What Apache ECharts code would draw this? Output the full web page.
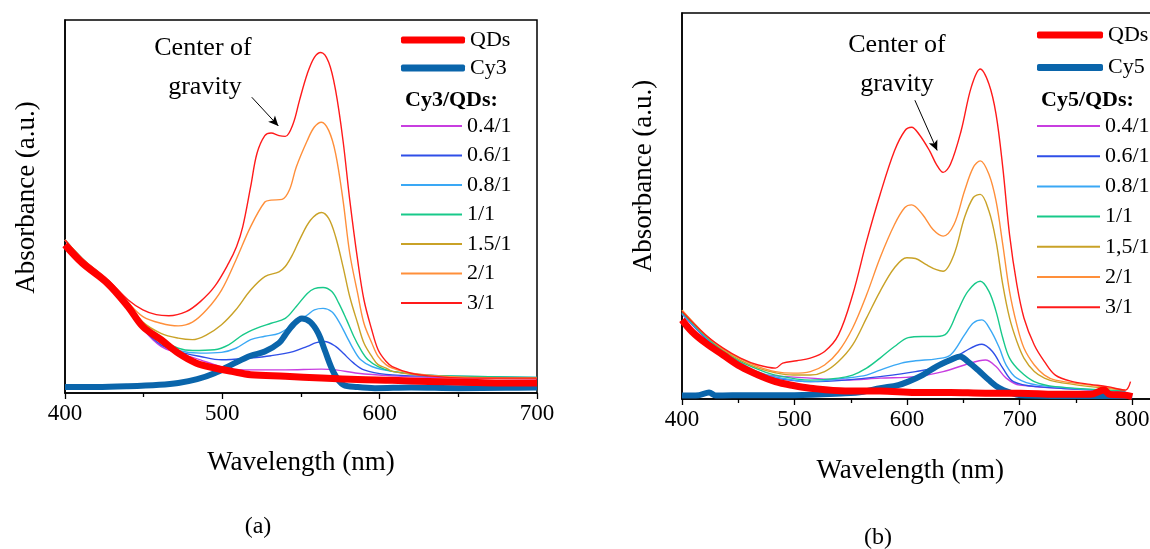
<!DOCTYPE html>
<html>
<head>
<meta charset="utf-8">
<script src="https://cdn.jsdelivr.net/npm/echarts/dist/echarts.min.js"></script>
<style>
html,body{margin:0;padding:0;background:#ffffff;}
#c{width:1150px;height:549px;}
</style>
</head>
<body>
<div id="c"></div>
<script>
// ---------------- DATA (wavelength nm, absorbance in relative units 0..1 of frame) ----------------
const labelsA = ['0.4/1', '0.6/1', '0.8/1', '1/1', '1.5/1', '2/1', '3/1'];
const labelsB = ['0.4/1', '0.6/1', '0.8/1', '1/1', '1,5/1', '2/1', '3/1'];
const dyeA = 'Cy3';
const dyeB = 'Cy5';
const headerA = 'Cy3/QDs:';
const headerB = 'Cy5/QDs:';
const xRangeA = [400, 700];
const xRangeB = [400, 850];

// Panel (a)
const qdsA = [[400,0.397],[411,0.348],[427,0.294],[440,0.232],[449.5,0.178],[461,0.143],[472,0.107],[483.6,0.08],[495,0.067],[506,0.058],[518,0.049],[540,0.045],[563,0.04],[586,0.036],[608,0.034],[631,0.031],[654,0.029],[677,0.027],[700,0.027]];
const cy3A = [[400,0.016],[420,0.016],[440,0.018],[460,0.022],[472,0.027],[484,0.037],[495,0.053],[506,0.076],[518,0.10],[527,0.111],[536,0.134],[540,0.156],[545,0.183],[550.6,0.20],[556,0.19],[561,0.16],[565,0.116],[571,0.053],[577,0.022],[586,0.016],[597,0.013],[620,0.015],[650,0.013],[680,0.014],[700,0.015]];
const a04 = [[400,0.41],[411,0.358],[427,0.3],[440,0.234],[449.5,0.172],[461,0.125],[472,0.107],[486,0.089],[495,0.076],[506,0.064],[518,0.062],[540,0.062],[563,0.064],[572,0.062],[586,0.053],[608,0.046],[631,0.042],[700,0.038]];
const a06 = [[400,0.41],[411,0.358],[427,0.3],[440,0.235],[449.5,0.174],[461,0.129],[472,0.111],[486,0.098],[499.5,0.089],[518,0.094],[531,0.10],[545,0.111],[554,0.125],[559.7,0.135],[565,0.138],[572,0.125],[576.7,0.107],[583.5,0.08],[590,0.062],[604,0.05],[631,0.045],[700,0.04]];
const a08 = [[400,0.41],[411,0.36],[427,0.3],[440,0.236],[449.5,0.176],[461,0.134],[472,0.114],[486,0.107],[499.5,0.109],[508.6,0.12],[518,0.143],[527,0.152],[536,0.16],[545,0.183],[554,0.209],[558.5,0.223],[564,0.227],[569.6,0.218],[574,0.192],[579,0.152],[583.5,0.116],[588,0.089],[595,0.071],[608,0.058],[631,0.048],[700,0.042]];
const a10 = [[400,0.41],[411,0.36],[427,0.301],[440,0.238],[449.5,0.18],[461,0.143],[472,0.12],[481,0.114],[495,0.116],[504,0.129],[513,0.156],[522,0.174],[531,0.187],[540,0.20],[547,0.232],[554,0.267],[558.5,0.28],[564,0.283],[569.6,0.272],[574,0.241],[579,0.196],[583.5,0.152],[588,0.116],[592.6,0.089],[599,0.071],[608,0.058],[631,0.048],[700,0.042]];
const a15 = [[400,0.41],[411,0.36],[427,0.302],[440,0.24],[449.5,0.19],[461,0.16],[472,0.147],[481,0.143],[490,0.156],[499.5,0.183],[508.6,0.223],[518,0.276],[527,0.312],[536,0.325],[540,0.339],[545,0.374],[549,0.41],[556,0.463],[563,0.484],[567.6,0.468],[572,0.419],[576.7,0.339],[581,0.258],[586,0.187],[590,0.134],[595,0.098],[599,0.076],[604,0.067],[608,0.058],[631,0.046],[700,0.04]];
const a20 = [[400,0.41],[411,0.36],[427,0.303],[440,0.243],[449.5,0.205],[461,0.187],[472,0.18],[481,0.19],[490,0.223],[499.5,0.276],[508.6,0.356],[518,0.446],[527,0.512],[531,0.517],[538,0.519],[542.6,0.544],[547,0.606],[554,0.677],[558.5,0.713],[563,0.726],[567.6,0.704],[572,0.642],[576.7,0.517],[581,0.374],[586,0.267],[590,0.187],[595,0.134],[599,0.098],[604,0.076],[608,0.067],[620,0.053],[654,0.042],[700,0.04]];
const a30 = [[400,0.41],[411,0.36],[427,0.305],[440,0.25],[449.5,0.223],[458,0.21],[466,0.207],[477,0.218],[486,0.245],[495,0.285],[504,0.348],[509,0.392],[513,0.446],[518,0.553],[522,0.642],[527,0.69],[531,0.697],[536,0.69],[540,0.688],[545,0.722],[549,0.784],[554,0.856],[558.5,0.90],[562.6,0.913],[567.6,0.887],[572,0.811],[576.7,0.677],[581,0.517],[586,0.356],[590,0.25],[595,0.169],[599,0.116],[604,0.085],[608,0.071],[620,0.053],[631,0.046],[654,0.04],[700,0.04]];

// Panel (b)
const qdsB = [[400,0.205],[408.7,0.175],[421,0.145],[436.6,0.114],[452,0.084],[467.7,0.062],[483,0.045],[498.8,0.035],[514,0.028],[545,0.021],[576,0.021],[607.5,0.017],[638.5,0.017],[669.6,0.015],[700.7,0.015],[731.7,0.012],[762.8,0.012],[775,0.023],[780,0.012],[793.8,0.010],[800,0.006]];
const cy5B = [[400,0.009],[415,0.01],[424,0.017],[430,0.009],[460,0.01],[500,0.01],[545,0.015],[561,0.019],[576,0.028],[592,0.036],[601,0.045],[613.7,0.062],[626,0.084],[638.5,0.101],[647,0.11],[654,0.097],[663,0.075],[672.7,0.049],[682,0.028],[691,0.017],[700.7,0.01],[750,0.008],[800,0.008]];
const b04 = [[400,0.22],[421,0.157],[436.6,0.118],[452,0.088],[467.7,0.066],[483,0.06],[514,0.054],[545,0.049],[576,0.054],[607.5,0.058],[632,0.071],[651,0.088],[669.6,0.101],[679,0.084],[688,0.054],[700,0.036],[793.8,0.02]];
const b06 = [[400,0.222],[421,0.158],[436.6,0.12],[452,0.09],[467.7,0.068],[483,0.054],[514,0.045],[545,0.049],[576,0.058],[607.5,0.071],[632,0.088],[651,0.123],[666.5,0.142],[675.8,0.123],[685,0.08],[694.5,0.045],[716,0.032],[793.8,0.02]];
const b08 = [[400,0.222],[421,0.16],[436.6,0.123],[452,0.094],[467.7,0.07],[483,0.057],[514,0.045],[545,0.054],[564,0.062],[576,0.075],[595,0.093],[607.5,0.099],[626,0.104],[638.5,0.114],[651,0.166],[658.8,0.197],[666.5,0.205],[674,0.179],[682,0.132],[688,0.088],[697.5,0.054],[716,0.036],[793.8,0.02]];
const b10 = [[400,0.225],[421,0.162],[436.6,0.125],[452,0.097],[467.7,0.077],[483,0.062],[514,0.049],[539,0.054],[551.6,0.062],[564,0.08],[576,0.106],[588.8,0.136],[601,0.159],[613.7,0.162],[626,0.162],[635.4,0.171],[644.8,0.227],[654,0.279],[665,0.305],[672.7,0.279],[679,0.227],[685,0.158],[691,0.106],[700.7,0.071],[713,0.045],[731.7,0.032],[793.8,0.021]];
const b15 = [[400,0.23],[421,0.165],[436.6,0.128],[452,0.1],[467.7,0.08],[483,0.068],[498.8,0.062],[514,0.062],[526.7,0.071],[539,0.097],[551.6,0.14],[564,0.21],[576,0.279],[588.8,0.34],[599.7,0.366],[607.5,0.364],[617,0.348],[626,0.335],[632,0.331],[641.6,0.374],[651,0.47],[658.8,0.522],[665,0.53],[672.7,0.487],[679,0.409],[685,0.296],[691,0.21],[697.5,0.149],[703.8,0.106],[713,0.071],[722,0.054],[731.7,0.045],[762.8,0.032],[793.8,0.023]];
const b20 = [[400,0.23],[421,0.166],[436.6,0.13],[452,0.104],[467.7,0.084],[483,0.071],[498.8,0.067],[514,0.071],[526.7,0.088],[539,0.123],[551.6,0.184],[564,0.27],[576,0.366],[588.8,0.452],[598,0.496],[604,0.503],[613.7,0.478],[623,0.439],[632,0.422],[641.6,0.452],[651,0.539],[658.8,0.60],[665,0.617],[672.7,0.582],[679,0.513],[685,0.40],[691,0.279],[697.5,0.192],[703.8,0.132],[713,0.088],[722,0.062],[731.7,0.049],[762.8,0.036],[793.8,0.023]];
const b30 = [[400,0.227],[421,0.166],[436.6,0.132],[452,0.106],[467.7,0.088],[483,0.08],[489.5,0.093],[502,0.099],[514,0.106],[526.7,0.123],[539,0.166],[551.6,0.27],[564,0.409],[576,0.53],[588.8,0.643],[598,0.695],[604,0.704],[610.6,0.686],[620,0.643],[626,0.608],[632,0.587],[638.5,0.608],[648,0.695],[657,0.808],[665,0.855],[672.7,0.816],[679,0.738],[685,0.60],[691,0.426],[697.5,0.296],[703.8,0.21],[713,0.14],[722,0.097],[731.7,0.062],[747,0.045],[762.8,0.038],[778,0.032],[793.8,0.023],[798.5,0.045]];

// annotation arrows (data coordinates: tail -> head)
const arrowA = [[518.7, 0.793], [535.6, 0.716]];
const arrowB = [[606.9, 0.774], [626.7, 0.644]];

// ---------------- STYLE ----------------
const FONT = '"Liberation Serif", "DejaVu Serif", serif';
const ratioColors = ['#c83ee0', '#2f4fe8', '#3aa8f5', '#18c98a', '#c9a227', '#ff8f3a', '#ff1a1a'];
const qdsColor = '#ff0000';
const dyeColor = '#0a65ab';

const chart = echarts.init(document.getElementById('c'), null, {renderer: 'canvas'});

function xAxisCfg(gi, range, gap, padRight) {
  return {
    type: 'value', gridIndex: gi, min: range[0], max: range[1], interval: 100,
    name: 'Wavelength (nm)', nameLocation: 'middle', nameGap: gap,
    nameTextStyle: {fontFamily: FONT, fontSize: 27, color: '#000', padding: [0, padRight, 0, 0]},
    axisLine: {show: true, lineStyle: {color: '#000', width: 1.5}},
    axisTick: {show: true, inside: false, length: 6, lineStyle: {color: '#000', width: 1.3}},
    minorTick: {show: true, splitNumber: 2, length: 4, lineStyle: {color: '#000', width: 1.3}},
    axisLabel: {show: true, margin: 9, fontFamily: FONT, fontSize: 23, color: '#000'},
    splitLine: {show: false}, minorSplitLine: {show: false}
  };
}
function yAxisCfg(gi, padLeft) {
  return {
    type: 'value', gridIndex: gi, min: 0, max: 1,
    name: 'Absorbance (a.u.)', nameLocation: 'middle', nameGap: 25,
    nameTextStyle: {fontFamily: FONT, fontSize: 27, color: '#000', padding: [0, 0, 0, padLeft]},
    axisLine: {show: true, lineStyle: {color: '#000', width: 1.5}},
    axisTick: {show: false}, axisLabel: {show: false}, splitLine: {show: false}
  };
}
function lineSeries(name, data, gi, color, width, z) {
  return {
    type: 'line', name: name, data: data, xAxisIndex: gi, yAxisIndex: gi,
    symbol: 'none', showSymbol: false, smooth: 0.35, color: color,
    lineStyle: {color: color, width: width, cap: 'butt', join: 'round'},
    clip: true, z: z, silent: true, animation: false
  };
}
function arrowMark(arr) {
  return {
    silent: true, symbol: ['none', 'arrow'], symbolSize: [7, 10], animation: false,
    label: {show: false},
    lineStyle: {color: '#000', width: 1, type: 'solid'},
    data: [[{coord: arr[0]}, {coord: arr[1]}]]
  };
}

const series = [];
const ratioA = [a04, a06, a08, a10, a15, a20, a30];
const ratioB = [b04, b06, b08, b10, b15, b20, b30];
labelsA.forEach((n, i) => series.push(lineSeries(n, ratioA[i], 0, ratioColors[i], 1.4, 2)));
labelsB.forEach((n, i) => series.push(lineSeries(n, ratioB[i], 1, ratioColors[i], 1.4, 2)));
series[6].markLine = arrowMark(arrowA);
series[13].markLine = arrowMark(arrowB);
series.push(lineSeries(dyeA, cy3A, 0, dyeColor, 6, 3));
series.push(lineSeries(dyeB, cy5B, 1, dyeColor, 6, 3));
series.push(lineSeries('QDs', qdsA, 0, qdsColor, 7, 4));
series.push(lineSeries('QDs', qdsB, 1, qdsColor, 7, 4));

function legendCfg(left, top, gap, w, h, icon, data, lh) {
  return {
    selectedMode: false, orient: 'vertical', left: left, top: top, padding: 0,
    itemGap: gap, itemWidth: w, itemHeight: h, icon: icon, data: data,
    itemStyle: {borderWidth: 0},
    textStyle: {fontFamily: FONT, fontSize: 22, color: '#000', lineHeight: lh}
  };
}

function txt(text, x, y, size, weight, align) {
  return {
    type: 'text', silent: true, x: x, y: y,
    style: {text: text, fill: '#000', font: (weight || 'normal') + ' ' + size + 'px ' + FONT,
            textAlign: align || 'center', textVerticalAlign: 'middle'}
  };
}

chart.setOption({
  animation: false,
  backgroundColor: '#ffffff',
  grid: [
    {left: 65, top: 20, width: 472, height: 373, show: true, borderColor: '#000', borderWidth: 1.5, containLabel: false, outerBoundsMode: 'none'},
    {left: 682, top: 13, width: 506.5, height: 386, show: true, borderColor: '#000', borderWidth: 1.5, containLabel: false, outerBoundsMode: 'none'}
  ],
  xAxis: [xAxisCfg(0, xRangeA, 56, 0), xAxisCfg(1, xRangeB, 58, 50)],
  yAxis: [yAxisCfg(0, 18), yAxisCfg(1, 60)],
  legend: [
    legendCfg(401, 26, 0, 64, 7, 'roundRect', ['QDs', dyeA], 28),
    legendCfg(401, 114, 5.5, 61, 2, 'rect', labelsA, 24),
    legendCfg(1037, 21, 4.5, 66, 7, 'roundRect', ['QDs', dyeB], 28),
    legendCfg(1037, 114, 6.2, 63, 2, 'rect', labelsB, 24)
  ],
  graphic: [
    txt(headerA, 405, 100, 22, 'bold', 'left'),
    txt(headerB, 1041, 100, 22, 'bold', 'left'),
    txt('Center of', 203, 48, 26),
    txt('gravity', 205, 87, 26),
    txt('Center of', 897, 45, 26),
    txt('gravity', 897, 84, 26),
    txt('(a)', 258, 527, 24),
    txt('(b)', 878, 538, 24)
  ],
  series: series
});
</script>
</body>
</html>
